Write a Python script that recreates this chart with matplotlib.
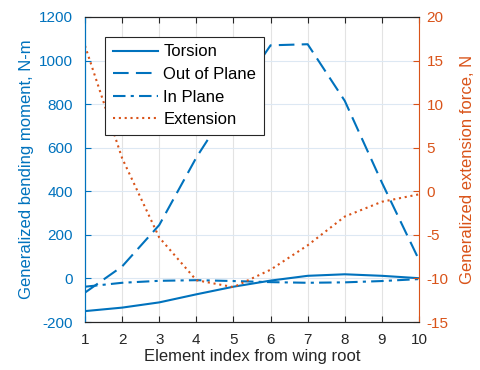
import numpy as np
import matplotlib.pyplot as plt

plt.rcParams['font.family'] = ['Liberation Sans', 'DejaVu Sans']
plt.rcParams['axes.unicode_minus'] = False

# Data
element = [1, 2, 3, 4, 5, 6, 7, 8, 9, 10]
torsion = [-150, -134, -110, -73, -38, -10, 12, 19, 12, 1]
out_of_plane = [-65, 55, 245, 555, 820, 1070, 1075, 815, 440, 85]
in_plane = [-38, -20, -11, -8, -12, -17, -20, -18, -12, -3]
extension = [16.7, 3.8, -5.3, -10.2, -11.0, -9.0, -6.2, -2.9, -1.2, -0.35]

blue = '#0072BD'
orange = '#D95319'
dark = '#262626'

fig = plt.figure(figsize=(4.81, 3.70), dpi=100)
ax1 = fig.add_axes([85 / 481, 1 - 322 / 370, 334 / 481, 305 / 370])
ax2 = ax1.twinx()

l1, = ax1.plot(element, torsion, color=blue, lw=1.5, ls='-', label='Torsion')
l2, = ax1.plot(element, out_of_plane, color=blue, lw=1.5, ls=(0, (7.5, 3.5)), label='Out of Plane')
l3, = ax1.plot(element, in_plane, color=blue, lw=1.5, ls=(0, (6, 2.5, 1.5, 2.5)), label='In Plane')
l4, = ax2.plot(element, extension, color=orange, lw=1.5, ls=(0, (1, 1.8)), label='Extension')

ax1.set_xlim(1, 10)
ax1.set_ylim(-200, 1200)
ax2.set_ylim(-15, 20)
ax1.set_xticks(range(1, 11))
ax1.set_yticks(range(-200, 1201, 200))
ax2.set_yticks(range(-15, 21, 5))

ax1.grid(axis='x', color='#e3e3e3', lw=0.8)
ax1.grid(axis='y', color='#dde8f3', lw=0.8)
ax1.set_axisbelow(True)

ax1.tick_params(axis='x', direction='in', top=True, colors=dark, labelsize=11, length=4, pad=8)
ax1.tick_params(axis='y', direction='in', colors=blue, labelsize=11, length=4, pad=8.5)
ax2.tick_params(axis='y', direction='in', colors=orange, labelsize=11, length=4, pad=5.5)

ax1.spines['left'].set_color(blue)
ax2.spines['left'].set_color(blue)
ax2.spines['right'].set_color(orange)
for ax in (ax1, ax2):
    ax.spines['top'].set_color(dark)
    ax.spines['bottom'].set_color(dark)
ax1.spines['right'].set_visible(False)

ax1.set_xlabel('Element index from wing root', fontsize=12, color=dark, labelpad=1)
ax1.set_ylabel('Generalized bending moment, N-m', fontsize=12, color=blue, labelpad=4)
ax2.set_ylabel('Generalized extension force, N', fontsize=12, color=orange, labelpad=8)

leg = ax2.legend(handles=[l1, l2, l3, l4], loc='upper left',
                 bbox_to_anchor=(20 / 334, 1 - 20 / 305), fontsize=12,
                 fancybox=False, framealpha=1, edgecolor=dark,
                 handlelength=2.7, borderpad=0.45, labelspacing=0.45,
                 handletextpad=0.35, borderaxespad=0)
leg.get_frame().set_linewidth(0.8)

fig.savefig('out.png', dpi=100)
